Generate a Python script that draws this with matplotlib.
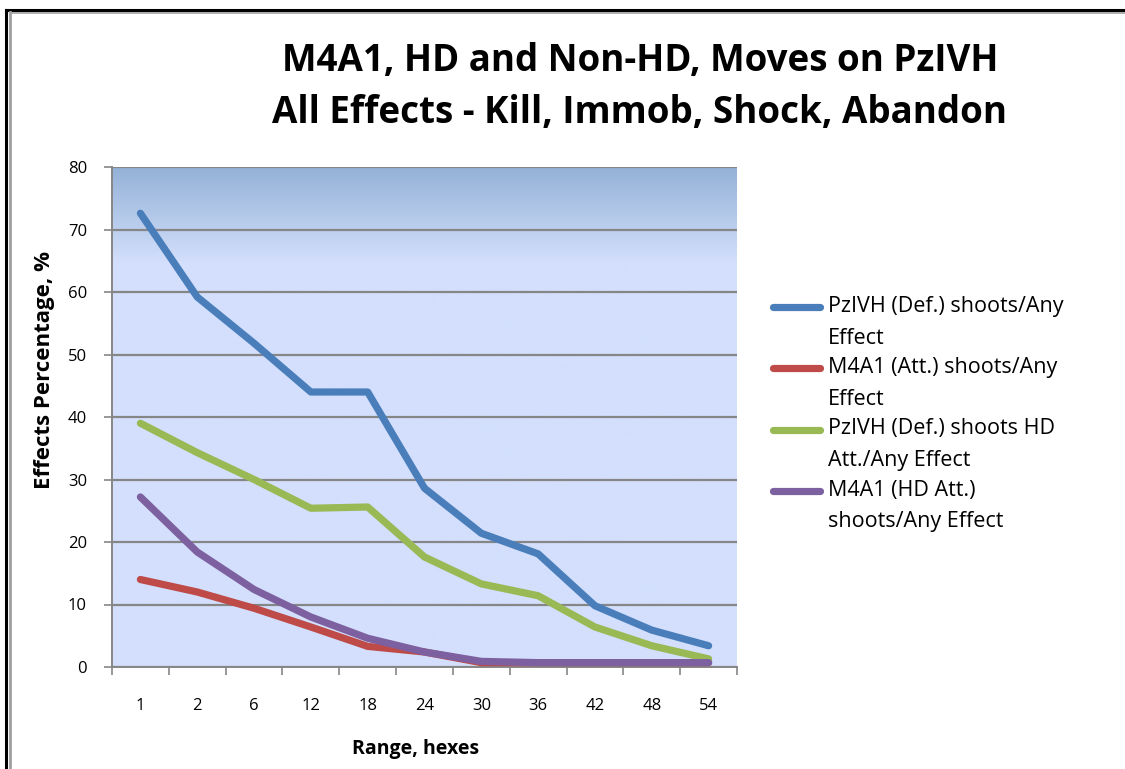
import numpy as np
import matplotlib.pyplot as plt
from matplotlib.legend_handler import HandlerLine2D
from matplotlib.lines import Line2D
from matplotlib.colors import LinearSegmentedColormap

plt.rcParams['font.family'] = ['Open Sans', 'DejaVu Sans']

# data
ranges = ['1', '2', '6', '12', '18', '24', '30', '36', '42', '48', '54']
pz_def_any = [72.6, 59.2, 51.8, 44.0, 44.0, 28.6, 21.4, 18.1, 9.8, 5.9, 3.4]
m4_att_any = [14.0, 12.0, 9.4, 6.4, 3.3, 2.4, 0.7, 0.7, 0.7, 0.7, 0.7]
pz_def_hd_any = [39.0, 34.3, 30.0, 25.4, 25.6, 17.6, 13.3, 11.4, 6.4, 3.4, 1.3]
m4_hd_any = [27.2, 18.4, 12.4, 8.0, 4.6, 2.4, 0.9, 0.7, 0.7, 0.7, 0.7]

series = [pz_def_any, m4_att_any, pz_def_hd_any, m4_hd_any]
labels = ['PzIVH (Def.) shoots/Any\nEffect',
          'M4A1 (Att.) shoots/Any\nEffect',
          'PzIVH (Def.) shoots HD\nAtt./Any Effect',
          'M4A1 (HD Att.)\nshoots/Any Effect']
colors = ['#4a7ebb', '#be4b48', '#98b954', '#7d60a0']

title = 'M4A1, HD and Non-HD, Moves on PzIVH\nAll Effects - Kill, Immob, Shock, Abandon'
grid_col = '#868686'


class FirstLineHandler(HandlerLine2D):
    # Excel puts the legend key next to the first line of a wrapped label
    def __init__(self, shift, **kw):
        super().__init__(**kw)
        self.shift = shift

    def create_artists(self, legend, orig_handle, xdescent, ydescent,
                       width, height, fontsize, trans):
        arts = super().create_artists(legend, orig_handle, xdescent, ydescent,
                                      width, height, fontsize, trans)
        for a in arts:
            a.set_ydata(np.asarray(a.get_ydata()) + self.shift)
        return arts


fig = plt.figure(figsize=(11.25, 7.69), dpi=100)
ax = fig.add_axes([112 / 1125, 1 - 667 / 769, 625 / 1125, 500 / 769])

# plot area gradient: dark blue at the top fading into light blue
grad_cmap = LinearSegmentedColormap.from_list(
    'plotarea', [(0.0, '#d3dffc'), (0.81, '#d3dffc'), (1.0, '#94b2d7')])
grad = np.linspace(0, 1, 256).reshape(-1, 1)
ax.imshow(grad, extent=[0, 1, 0, 1], transform=ax.transAxes, origin='lower',
          aspect='auto', cmap=grad_cmap, zorder=0)

x = np.arange(len(ranges))
handles = []
for vals, lab, col in zip(series, labels, colors):
    ln, = ax.plot(x, vals, color=col, lw=5.2, solid_capstyle='round',
                  solid_joinstyle='round', label=lab, zorder=3)
    handles.append(ln)

ax.set_xlim(-0.5, len(ranges) - 0.5)
ax.set_ylim(0, 80)
ax.set_yticks(range(0, 81, 10))
ax.yaxis.grid(True, color=grid_col, lw=1.6, zorder=1)
ax.set_axisbelow(True)

ax.set_xticks(x)
ax.set_xticklabels(ranges)
ax.set_xticks(np.arange(-0.5, len(ranges)), minor=True)
ax.tick_params(axis='x', which='major', length=0, pad=22, labelsize=12)
ax.tick_params(axis='x', which='minor', length=6, width=1.2, color=grid_col,
               direction='out')
ax.tick_params(axis='y', length=6, width=1.2, color=grid_col, pad=12,
               labelsize=12)

for s in ['top', 'right']:
    ax.spines[s].set_visible(False)
for s in ['left', 'bottom']:
    ax.spines[s].set_color(grid_col)
    ax.spines[s].set_linewidth(1.4)

fig.text(45 / 1125, 1 - 370 / 769, 'Effects Percentage, %', rotation=90,
         ha='center', va='center', fontsize=16, fontweight='bold')
fig.text(416 / 1125, 1 - 749 / 769, 'Range, hexes', ha='center', va='center',
         fontsize=14, fontweight='bold')

fig.text(640 / 1125, 1 - 87 / 769, title, ha='center', va='center',
         fontsize=26.5, fontweight='bold', linespacing=1.5)

leg = fig.legend(handles=handles, labels=labels, loc='upper left',
                 bbox_to_anchor=(773 / 1125, 1 - 296 / 769),
                 frameon=False, fontsize=15.5, handlelength=2.19,
                 handletextpad=0.37, labelspacing=0.40, borderpad=0,
                 borderaxespad=0,
                 handler_map={Line2D: FirstLineHandler(shift=11.2)})
for t in leg.get_texts():
    t.set_linespacing(1.66)

# outer frame of the pasted chart
fig.add_artist(Line2D([6 / 1125, 6 / 1125], [0, 1 - 10 / 769],
                      color='black', lw=2.2))
fig.add_artist(Line2D([6 / 1125, 1], [1 - 10 / 769, 1 - 10 / 769],
                      color='black', lw=2.2))
fig.add_artist(Line2D([10 / 1125, 10 / 1125], [0, 1 - 12 / 769],
                      color='#a0a0a0', lw=2))
fig.add_artist(Line2D([10 / 1125, 1], [1 - 12.5 / 769, 1 - 12.5 / 769],
                      color='#a0a0a0', lw=1.2))

fig.savefig('out.png', dpi=100)
